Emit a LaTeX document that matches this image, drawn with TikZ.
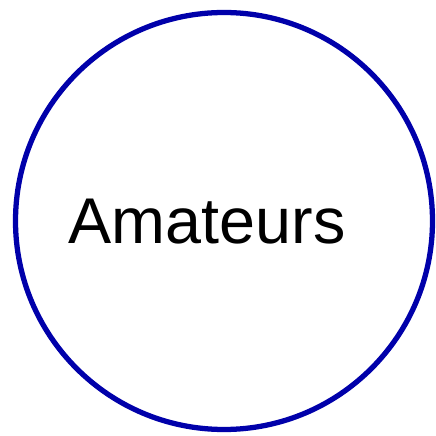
\documentclass[tikz,border=0pt]{standalone}
\usepackage{fontspec}
\setmainfont{Liberation Sans}
\usetikzlibrary{positioning}
\definecolor{RingBlue}{RGB}{0,0,170}

\begin{document}
\begin{tikzpicture}[x=1cm,y=1cm]
  \useasboundingbox (0,0) rectangle (4.36,4.36);
  % the set
  \node[draw=RingBlue,line width=1.5pt,circle,minimum size=4.17cm,inner sep=0pt] (ring) at (2.24,2.15) {};
  \node[font=\fontsize{18.4}{21}\selectfont,inner sep=0pt] (amateurs) at (2.07,2.14) {Amateurs};
\end{tikzpicture}
\end{document}
